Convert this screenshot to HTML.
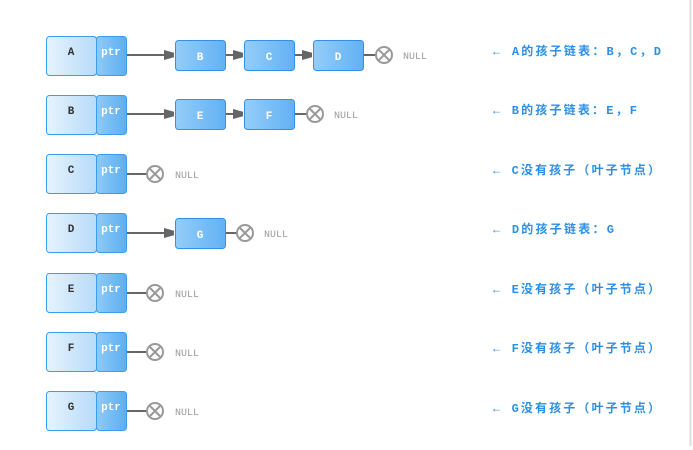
<!DOCTYPE html>
<html><head><meta charset="utf-8"><style>
html,body{margin:0;padding:0;background:#fff;width:693px;height:450px;overflow:hidden}
</style></head><body>
<svg width="693" height="450" viewBox="0 0 693 450" xmlns="http://www.w3.org/2000/svg">
<defs>
<linearGradient id="hl" x1="0" x2="1"><stop offset="0" stop-color="#e6f3fe"/><stop offset="1" stop-color="#b7dbf8"/></linearGradient>
<linearGradient id="pt" x1="0" x2="1"><stop offset="0" stop-color="#8ecaf7"/><stop offset="1" stop-color="#5caef1"/></linearGradient>
<linearGradient id="nd" x1="0" x2="1"><stop offset="0" stop-color="#94cdf9"/><stop offset="1" stop-color="#62b1f4"/></linearGradient>
<marker id="ar" markerWidth="10" markerHeight="10" refX="9" refY="5" orient="auto" markerUnits="userSpaceOnUse"><path d="M0,0 L18,5 L0,10z" fill="#666"/></marker>
<g id="nul"><circle r="8" fill="#fff" stroke="#999" stroke-width="2"/><path d="M-5.5,-5.5L5.5,5.5M5.5,-5.5L-5.5,5.5" stroke="#999" stroke-width="2"/></g>
</defs>
<line x1="690.5" y1="0" x2="690.5" y2="446" stroke="#ddd" stroke-width="2"/>
<g font-family="Liberation Mono, monospace" font-weight="bold" font-size="11">
<!-- heads -->
<g id="heads">
</g>
</g>
<g font-family="Liberation Mono, monospace" font-size="11">
<!-- row generator done manually -->
</g>
<g font-family="'Liberation Mono','Noto Sans CJK SC',monospace" font-weight="bold" font-size="12" fill="#2b8fe8">
<text x="493" y="55" textLength="168" lengthAdjust="spacing">← A的孩子链表：B，C，D</text>
<text x="493" y="114" textLength="144" lengthAdjust="spacing">← B的孩子链表：E，F</text>
<text x="493" y="174" textLength="167" lengthAdjust="spacing">← C没有孩子（叶子节点）</text>
<text x="493" y="233" textLength="121" lengthAdjust="spacing">← D的孩子链表：G</text>
<text x="493" y="293" textLength="167" lengthAdjust="spacing">← E没有孩子（叶子节点）</text>
<text x="493" y="352" textLength="167" lengthAdjust="spacing">← F没有孩子（叶子节点）</text>
<text x="493" y="412" textLength="167" lengthAdjust="spacing">← G没有孩子（叶子节点）</text>
</g>
<g font-family="Liberation Mono, monospace" font-weight="bold" font-size="11" text-anchor="middle">
<!-- head boxes: rows at top 36,95,154,214,273,332,392 -->
<g transform="translate(0,36)"><rect x="46.5" y="0.5" width="50" height="39" rx="3" fill="url(#hl)" stroke="#3a9df0"/><rect x="96.5" y="0.5" width="30" height="39" rx="3" fill="url(#pt)" stroke="#3a9df0"/><text x="71" y="19" fill="#333">A</text><text x="111" y="19" fill="#fff">ptr</text></g>
<g transform="translate(0,95)"><rect x="46.5" y="0.5" width="50" height="39" rx="3" fill="url(#hl)" stroke="#3a9df0"/><rect x="96.5" y="0.5" width="30" height="39" rx="3" fill="url(#pt)" stroke="#3a9df0"/><text x="71" y="19" fill="#333">B</text><text x="111" y="19" fill="#fff">ptr</text></g>
<g transform="translate(0,154)"><rect x="46.5" y="0.5" width="50" height="39" rx="3" fill="url(#hl)" stroke="#3a9df0"/><rect x="96.5" y="0.5" width="30" height="39" rx="3" fill="url(#pt)" stroke="#3a9df0"/><text x="71" y="19" fill="#333">C</text><text x="111" y="19" fill="#fff">ptr</text></g>
<g transform="translate(0,213)"><rect x="46.5" y="0.5" width="50" height="39" rx="3" fill="url(#hl)" stroke="#3a9df0"/><rect x="96.5" y="0.5" width="30" height="39" rx="3" fill="url(#pt)" stroke="#3a9df0"/><text x="71" y="19" fill="#333">D</text><text x="111" y="19" fill="#fff">ptr</text></g>
<g transform="translate(0,273)"><rect x="46.5" y="0.5" width="50" height="39" rx="3" fill="url(#hl)" stroke="#3a9df0"/><rect x="96.5" y="0.5" width="30" height="39" rx="3" fill="url(#pt)" stroke="#3a9df0"/><text x="71" y="19" fill="#333">E</text><text x="111" y="19" fill="#fff">ptr</text></g>
<g transform="translate(0,332)"><rect x="46.5" y="0.5" width="50" height="39" rx="3" fill="url(#hl)" stroke="#3a9df0"/><rect x="96.5" y="0.5" width="30" height="39" rx="3" fill="url(#pt)" stroke="#3a9df0"/><text x="71" y="19" fill="#333">F</text><text x="111" y="19" fill="#fff">ptr</text></g>
<g transform="translate(0,391)"><rect x="46.5" y="0.5" width="50" height="39" rx="3" fill="url(#hl)" stroke="#3a9df0"/><rect x="96.5" y="0.5" width="30" height="39" rx="3" fill="url(#pt)" stroke="#3a9df0"/><text x="71" y="19" fill="#333">G</text><text x="111" y="19" fill="#fff">ptr</text></g>

<!-- row A -->
<g stroke="#666" stroke-width="2">
<line x1="127" y1="55" x2="173" y2="55" marker-end="url(#ar)"/>
<line x1="226" y1="55" x2="242" y2="55" marker-end="url(#ar)"/>
<line x1="295" y1="55" x2="311" y2="55" marker-end="url(#ar)"/>
<line x1="364" y1="55" x2="376" y2="55"/>
<line x1="127" y1="114" x2="173" y2="114" marker-end="url(#ar)"/>
<line x1="226" y1="114" x2="242" y2="114" marker-end="url(#ar)"/>
<line x1="295" y1="114" x2="307" y2="114"/>
<line x1="127" y1="174" x2="148" y2="174"/>
<line x1="127" y1="233" x2="173" y2="233" marker-end="url(#ar)"/>
<line x1="226" y1="233" x2="238" y2="233"/>
<line x1="127" y1="293" x2="148" y2="293"/>
<line x1="127" y1="352" x2="148" y2="352"/>
<line x1="127" y1="411" x2="148" y2="411"/>
</g>
<g fill="url(#nd)" stroke="#2f91ea">
<rect x="175.5" y="40.5" width="50" height="30" rx="3"/>
<rect x="244.5" y="40.5" width="50" height="30" rx="3"/>
<rect x="313.5" y="40.5" width="50" height="30" rx="3"/>
<rect x="175.5" y="99.5" width="50" height="30" rx="3"/>
<rect x="244.5" y="99.5" width="50" height="30" rx="3"/>
<rect x="175.5" y="218.5" width="50" height="30" rx="3"/>
</g>
<g fill="#fff">
<text x="200" y="60">B</text><text x="269" y="60">C</text><text x="338" y="60">D</text>
<text x="200" y="119">E</text><text x="269" y="119">F</text>
<text x="200" y="238">G</text>
</g>
</g>
<use href="#nul" x="384" y="55"/>
<use href="#nul" x="315" y="114"/>
<use href="#nul" x="155" y="174"/>
<use href="#nul" x="245" y="233"/>
<use href="#nul" x="155" y="293"/>
<use href="#nul" x="155" y="352"/>
<use href="#nul" x="155" y="411"/>
<g font-family="Liberation Mono, monospace" font-size="10" fill="#999">
<text x="403" y="59">NULL</text>
<text x="334" y="118">NULL</text>
<text x="175" y="178">NULL</text>
<text x="264" y="237">NULL</text>
<text x="175" y="297">NULL</text>
<text x="175" y="356">NULL</text>
<text x="175" y="415">NULL</text>
</g>
</svg>
</body></html>
